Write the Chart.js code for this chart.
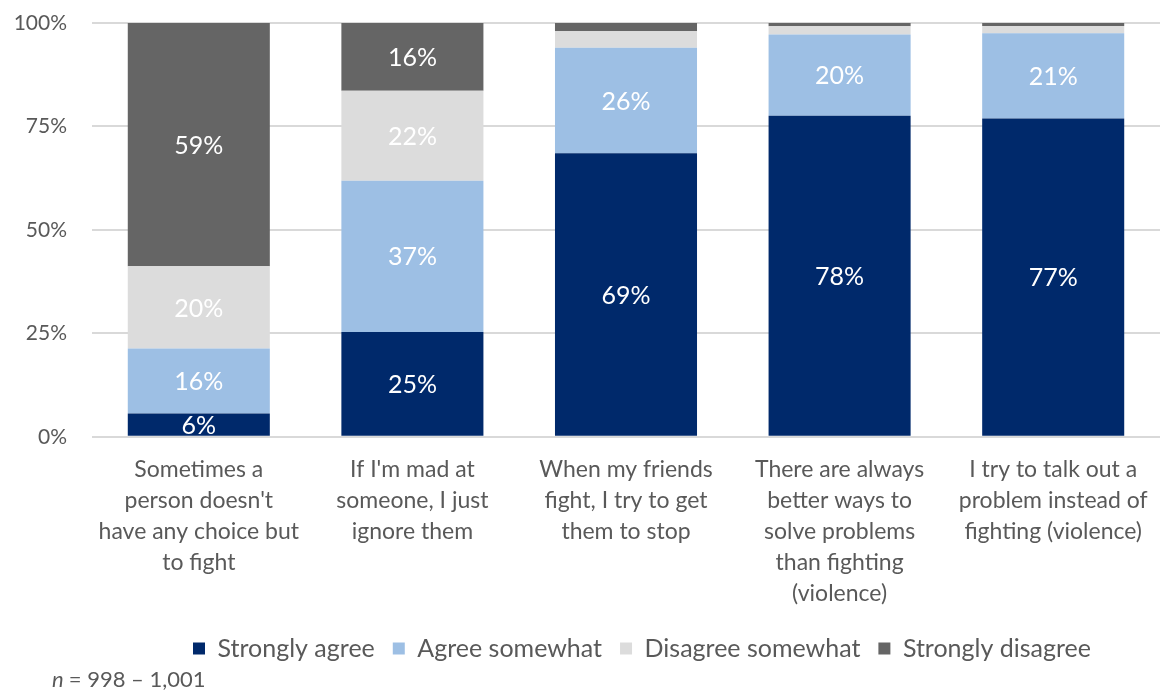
<!DOCTYPE html>
<html>
<head>
<meta charset="utf-8">
<script src="https://cdn.jsdelivr.net/npm/chart.js@4"></script>
<style>
  body { margin: 0; background: #fff; }
  #wrap { width: 1160px; height: 693px; position: relative; }
</style>
</head>
<body>
<div id="wrap"><canvas id="myChart"></canvas></div>
<script>
// categories (multi-line axis labels)
const categories = [
  ["Sometimes a", "person doesn't", "have any choice but", "to fight"],
  ["If I'm mad at", "someone, I just", "ignore them"],
  ["When my friends", "fight, I try to get", "them to stop"],
  ["There are always", "better ways to", "solve problems", "than fighting", "(violence)"],
  ["I try to talk out a", "problem instead of", "fighting (violence)"]
];

// percent of respondents
const stronglyAgree = [5.6, 25.3, 68.5, 77.6, 76.9];
const agreeSomewhat = [15.7, 36.6, 25.5, 19.6, 20.6];
const disagreeSomewhat = [19.9, 21.7, 4.0, 2.0, 1.8];
const stronglyDisagree = [58.8, 16.4, 2.0, 0.8, 0.7];

const yTicks = [0, 25, 50, 75, 100];
const footnote = "= 998 \u2013 1,001";

const fontFamily = "Lato, 'Open Sans', sans-serif";
const grey = "#595959";

// white value labels inside each segment
const segmentLabels = {
  id: "segmentLabels",
  afterDatasetsDraw(chart) {
    const ctx = chart.ctx;
    ctx.save();
    ctx.fillStyle = "#fff";
    ctx.font = "25px " + fontFamily;
    ctx.textAlign = "center";
    ctx.textBaseline = "middle";
    chart.data.datasets.forEach(function (ds, i) {
      const meta = chart.getDatasetMeta(i);
      meta.data.forEach(function (bar, j) {
        const v = ds.data[j];
        if (v < 5) return;
        const yMid = (bar.y + bar.base) / 2;
        ctx.fillText(Math.round(v) + "%", bar.x, yMid + 1);
      });
    });
    ctx.restore();
  }
};

// sample size note, bottom left
const footnotePlugin = {
  id: "footnotePlugin",
  afterDraw(chart) {
    const ctx = chart.ctx;
    ctx.save();
    ctx.fillStyle = grey;
    ctx.textBaseline = "middle";
    ctx.textAlign = "left";
    ctx.font = "italic 22px " + fontFamily;
    ctx.fillText("n", 52, 680);
    const w = ctx.measureText("n ").width;
    ctx.font = "22px " + fontFamily;
    ctx.fillText(footnote, 52 + w, 680);
    ctx.restore();
  }
};

// nudge the legend to the right so it sits under the bars
const legendShift = {
  id: "legendShift",
  afterLayout(chart) {
    chart.legend.left += 62;
    chart.legend.right += 62;
  }
};

function makeSet(label, data, color) {
  return {
    label: label,
    data: data,
    backgroundColor: color,
    borderWidth: 0,
    barPercentage: 0.665,
    categoryPercentage: 1
  };
}

const ctx = document.getElementById("myChart").getContext("2d");

const chart = new Chart(ctx, {
  type: "bar",
  data: {
    labels: categories,
    datasets: [
      makeSet("Strongly agree", stronglyAgree, "#00296b"),
      makeSet("Agree somewhat", agreeSomewhat, "#9dbfe4"),
      makeSet("Disagree somewhat", disagreeSomewhat, "#dcdcdc"),
      makeSet("Strongly disagree", stronglyDisagree, "#656565")
    ]
  },
  options: {
    responsive: true,
    maintainAspectRatio: false,
    animation: false,
    layout: { padding: { top: 23, left: 0, right: 0, bottom: 22 } },
    scales: {
      x: {
        stacked: true,
        grid: { display: false },
        border: { display: false },
        ticks: {
          color: grey,
          font: { family: fontFamily, size: 23, lineHeight: 1.35 },
          padding: 9,
          maxRotation: 0,
          autoSkip: false
        }
      },
      y: {
        stacked: true,
        min: 0,
        max: 100,
        afterBuildTicks: function (axis) {
          axis.ticks = yTicks.map(function (v) { return { value: v }; });
        },
        afterFit: function (axis) {
          axis.width = 92;
          axis.paddingTop = 0;
          axis.paddingBottom = 0;
        },
        grid: { color: "#d9d9d9", lineWidth: 2, drawTicks: false },
        border: { display: false },
        ticks: {
          color: grey,
          font: { family: fontFamily, size: 21 },
          padding: 25,
          callback: function (v) { return v + "%"; }
        }
      }
    },
    plugins: {
      legend: {
        position: "bottom",
        labels: {
          color: grey,
          font: { family: fontFamily, size: 25 },
          boxWidth: 12,
          boxHeight: 12,
          padding: 18
        }
      },
      tooltip: { enabled: false }
    }
  },
  plugins: [segmentLabels, footnotePlugin, legendShift]
});
</script>
</body>
</html>
